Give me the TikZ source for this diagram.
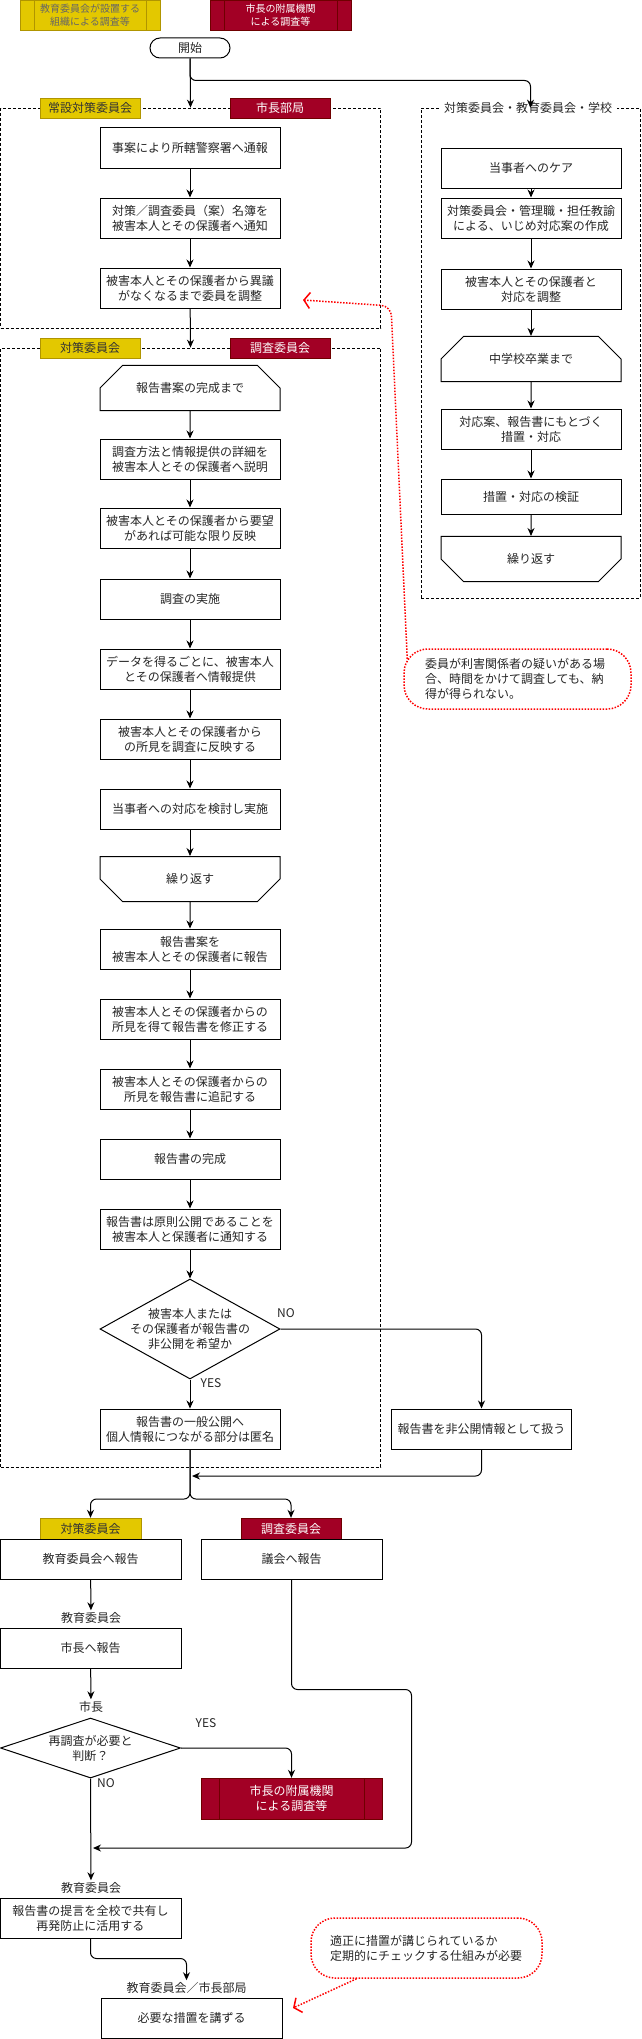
\documentclass[tikz,border=0pt]{standalone}
\usepackage{fontspec}
\setmainfont{Noto Sans CJK JP}
\usetikzlibrary{arrows.meta,shapes.geometric,shapes.misc}

\definecolor{tagyellow}{HTML}{E3C800}
\definecolor{tagyellowline}{HTML}{B09500}
\definecolor{tagred}{HTML}{A20025}
\definecolor{tagredline}{HTML}{6F0000}
\definecolor{notered}{HTML}{FF0000}

\begin{document}
\begin{tikzpicture}[x=1pt, y=-1pt,
    font=\fontsize{12}{15}\selectfont,
    box/.style={rectangle, draw=black, line width=1pt, fill=white, text=black!85,
        minimum width=180pt, minimum height=40pt, inner sep=2pt, align=center},
    looptop/.style={box, chamfered rectangle,
        chamfered rectangle corners={north west,north east},
        chamfered rectangle xsep=20pt, chamfered rectangle ysep=15pt},
    loopend/.style={box, chamfered rectangle,
        chamfered rectangle corners={south west,south east},
        chamfered rectangle xsep=20pt, chamfered rectangle ysep=15pt},
    decision/.style={diamond, draw=black, line width=1pt, fill=white,
        minimum width=180pt, minimum height=100pt, inner sep=0pt},
    terminal/.style={rectangle, rounded corners=10pt, draw=black, line width=1pt,
        text=black!85, minimum width=80pt, minimum height=20pt, inner sep=0pt},
    group/.style={rectangle, draw=black, line width=0.8pt,
        dash pattern=on 3pt off 2pt, inner sep=0pt},
    yellowtag/.style={rectangle, draw=tagyellowline, fill=tagyellow, text=black!80,
        minimum width=100pt, minimum height=20pt, inner sep=0pt},
    redtag/.style={rectangle, draw=tagredline, fill=tagred, text=white,
        minimum width=100pt, minimum height=20pt, inner sep=0pt},
    subproc/.style 2 args={path picture={
        \draw[line width=1pt, draw=#1]
            ([xshift=#2]path picture bounding box.north west) --
            ([xshift=#2]path picture bounding box.south west)
            ([xshift=-#2]path picture bounding box.north east) --
            ([xshift=-#2]path picture bounding box.south east);}},
    caption/.style={text=black!85, inner sep=2pt},
    note/.style={rectangle, rounded corners=24pt, draw=notered, line width=1.5pt,
        dash pattern=on 1.5pt off 1.5pt, text=black!85, align=left,
        minimum height=60pt, inner ysep=4pt},
    edge/.style={line width=1pt, rounded corners=6pt,
        -{Stealth[length=8pt,width=7pt]}},
    noteedge/.style={draw=notered, line width=1.5pt, dash pattern=on 1.5pt off 1.5pt,
        rounded corners=10pt, -{Straight Barb[length=6pt,width=16pt]}}
]
    \useasboundingbox (0,0) rectangle (641,2039);

    \node[group, minimum width=380pt, minimum height=220pt] (g1) at (190.5,218) {};
    \node[group, minimum width=380pt, minimum height=1119pt] (g2) at (190.5,907.5) {};
    \node[group, minimum width=219pt, minimum height=490pt] (g3) at (530.5,353) {};

    \node[yellowtag, minimum width=140pt, minimum height=30pt, text=black!60,
        font=\fontsize{10}{12.5}\selectfont, align=center,
        subproc={tagyellowline}{14pt}] (lg1) at (90,15) {教育委員会が設置する\\組織による調査等};
    \node[redtag, minimum width=141pt, minimum height=30pt,
        font=\fontsize{10}{12.5}\selectfont, align=center,
        subproc={tagredline}{14pt}] (lg2) at (280.5,15) {市長の附属機関\\による調査等};

    \node[terminal] (s) at (190,48) {開始};

    \node[yellowtag] (t1) at (90,108) {常設対策委員会};
    \node[redtag] (t2) at (280,108) {市長部局};
    \node[fill=white, inner xsep=5pt, inner ysep=1pt, text=black!85] (t0) at (528,108) {対策委員会・教育委員会・学校};
    \node[yellowtag] (t3) at (90,348) {対策委員会};
    \node[redtag] (t4) at (280,348) {調査委員会};

    \node[box] (b1) at (190,148) {事案により所轄警察署へ通報};
    \node[box] (b2) at (190,218) {対策／調査委員（案）名簿を\\被害本人とその保護者へ通知};
    \node[box] (b3) at (190,288) {被害本人とその保護者から異議\\がなくなるまで委員を調整};

    \node[looptop] (c1) at (190,388) {報告書案の完成まで};
    \node[box] (c2) at (190,459) {調査方法と情報提供の詳細を\\被害本人とその保護者へ説明};
    \node[box] (c3) at (190,528) {被害本人とその保護者から要望\\があれば可能な限り反映};
    \node[box] (c4) at (190,599) {調査の実施};
    \node[box] (c5) at (190,669) {データを得るごとに、被害本人\\とその保護者へ情報提供};
    \node[box] (c6) at (190,739) {被害本人とその保護者から\\の所見を調査に反映する};
    \node[box] (c7) at (190,809) {当事者への対応を検討し実施};
    \node[loopend] (c8) at (190,879) {繰り返す};
    \node[box] (c9) at (190,949) {報告書案を\\被害本人とその保護者に報告};
    \node[box] (c10) at (190,1019) {被害本人とその保護者からの\\所見を得て報告書を修正する};
    \node[box] (c11) at (190,1089) {被害本人とその保護者からの\\所見を報告書に追記する};
    \node[box] (c12) at (190,1159) {報告書の完成};
    \node[box] (c13) at (190,1229) {報告書は原則公開であることを\\被害本人と保護者に通知する};
    \node[decision, label={[align=center, text=black!85]center:被害本人または\\その保護者が報告書の\\非公開を希望か}] (d1) at (190,1329) {};
    \node[box] (pub) at (190,1429) {報告書の一般公開へ\\個人情報につながる部分は匿名};
    \node[box] (nonpub) at (481.5,1429) {報告書を非公開情報として扱う};
    \node[caption] (no1) at (286,1313) {NO};
    \node[caption] (yes1) at (211,1383) {YES};

    \node[box] (k1) at (531,168) {当事者へのケア};
    \node[box] (k2) at (531,218) {対策委員会・管理職・担任教諭\\による、いじめ対応案の作成};
    \node[box] (k3) at (531,289) {被害本人とその保護者と\\対応を調整};
    \node[looptop] (k4) at (531,359) {中学校卒業まで};
    \node[box] (k5) at (531,429) {対応案、報告書にもとづく\\措置・対応};
    \node[box, minimum height=35pt] (k6) at (531,496.5) {措置・対応の検証};
    \node[loopend] (k7) at (531,559) {繰り返す};

    \node[note, minimum width=227pt, text width=185pt, inner xsep=21pt] (note1) at (517.5,679)
        {委員が利害関係者の疑いがある場\\合、時間をかけて調査しても、納\\得が得られない。};

    \node[yellowtag, minimum width=101pt, minimum height=21pt] (t5) at (90.5,1528.5) {対策委員会};
    \node[redtag, minimum width=100pt, minimum height=21pt] (t6) at (291,1528.5) {調査委員会};
    \node[box, minimum width=181pt] (e1) at (90.5,1559) {教育委員会へ報告};
    \node[box, minimum width=181pt] (e2) at (291.5,1559) {議会へ報告};
    \node[caption] (l1) at (91,1618) {教育委員会};
    \node[box, minimum width=181pt] (e3) at (90.5,1648) {市長へ報告};
    \node[caption] (l2) at (91,1707) {市長};
    \node[decision, minimum height=60pt, label={[align=center, text=black!85]center:再調査が必要と\\判断？}] (d2) at (90.5,1748) {};
    \node[caption] (yes2) at (206,1723) {YES};
    \node[caption] (no2) at (106,1783) {NO};
    \node[redtag, minimum width=181pt, minimum height=41pt, align=center,
        subproc={tagredline}{18pt}] (fb) at (291.5,1798.5) {市長の附属機関\\による調査等};
    \node[caption] (l3) at (91,1888) {教育委員会};
    \node[box, minimum width=181pt] (e4) at (90.5,1918) {報告書の提言を全校で共有し\\再発防止に活用する};
    \node[caption] (l4) at (186.5,1988) {教育委員会／市長部局};
    \node[box, minimum width=181pt] (e5) at (191.5,2018) {必要な措置を講ずる};
    \node[note, minimum width=231pt, text width=193pt, inner xsep=19pt] (note2) at (426.5,1948)
        {適正に措置が講じられているか\\定期的にチェックする仕組みが必要};

    \coordinate (q1) at (303,300);
    \coordinate (q2) at (293,2008);
    \coordinate (m1) at (192,1476);
    \coordinate (sp) at (190,1499);
    \coordinate (m2) at (93,1848);

    \draw[edge] (s) -- (g1.north);
    \draw[edge] (s.south) -- ++(0,22) -| (g3.north);
    \draw[edge] (b1) -- (b2);
    \draw[edge] (b2) -- (b3);
    \draw[edge] (b3) -- (g2.north);
    \draw[edge] (c1) -- (c2);
    \draw[edge] (c2) -- (c3);
    \draw[edge] (c3) -- (c4);
    \draw[edge] (c4) -- (c5);
    \draw[edge] (c5) -- (c6);
    \draw[edge] (c6) -- (c7);
    \draw[edge] (c7) -- (c8);
    \draw[edge] (c8) -- (c9);
    \draw[edge] (c9) -- (c10);
    \draw[edge] (c10) -- (c11);
    \draw[edge] (c11) -- (c12);
    \draw[edge] (c12) -- (c13);
    \draw[edge] (c13) -- (d1);
    \draw[edge] (d1) -- (pub);
    \draw[edge] (d1.east) -| (nonpub.north);
    \draw[edge] (nonpub.south) |- (m1);
    \draw[edge] (pub.south) -- (sp) -| (t5.north);
    \draw[edge] (pub.south) -- (sp) -| (t6.north);
    \draw[edge] (k1) -- (k2);
    \draw[edge] (k2) -- (k3);
    \draw[edge] (k3) -- (k4);
    \draw[edge] (k4) -- (k5);
    \draw[edge] (k5) -- (k6);
    \draw[edge] (k6) -- (k7);
    \draw[edge] (e1) -- (l1);
    \draw[edge] (e3) -- (l2);
    \draw[edge] (d2.east) -| (fb.north);
    \draw[edge] (e2.south) -- ++(0,110) -- ++(120,0) |- (m2);
    \draw[edge] (d2.south) -- (l3);
    \draw[edge] (e4.south) -- ++(0,20) -| (l4.north);
    \draw[noteedge] ([xshift=4pt]note1.170) -- (391,306) -- (q1);
    \draw[noteedge] ([xshift=-70pt]note2.south) -- (q2);
\end{tikzpicture}
\end{document}
